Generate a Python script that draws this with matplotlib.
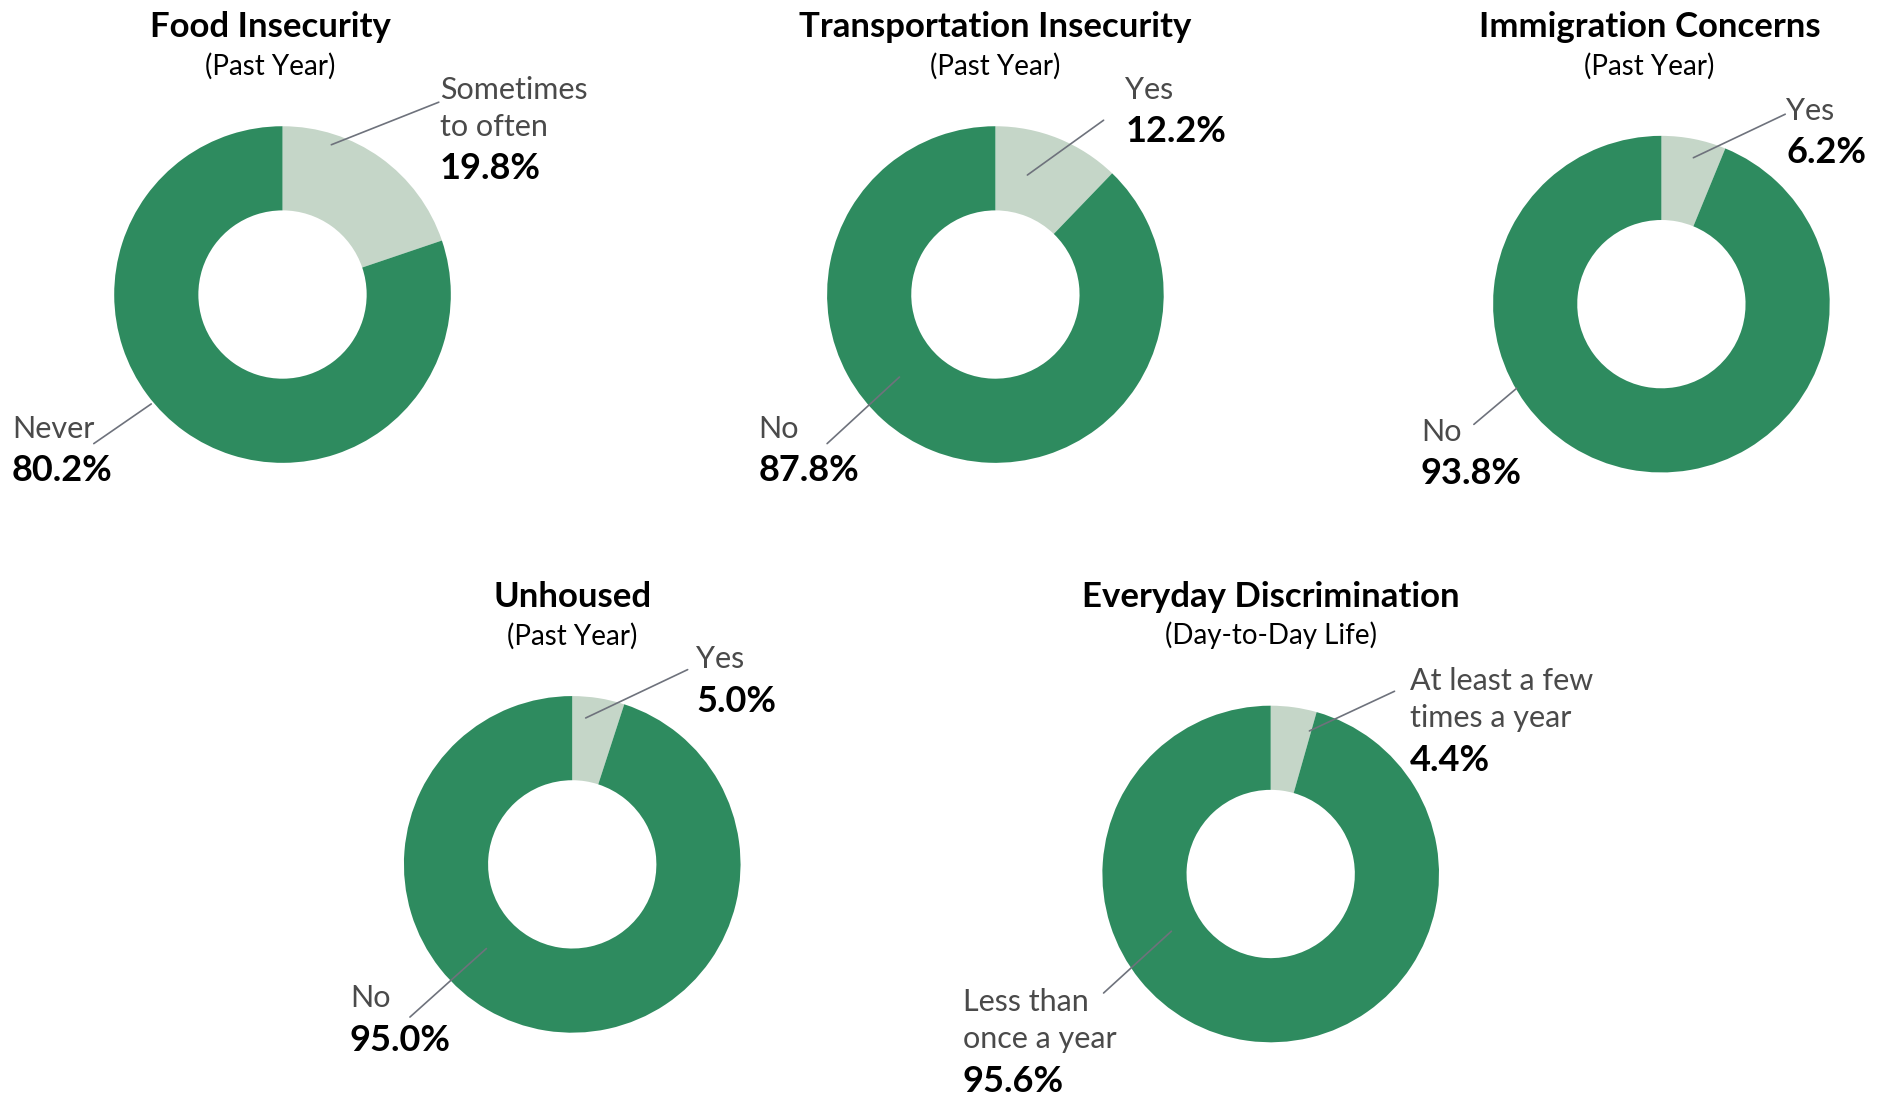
import matplotlib
matplotlib.use("Agg")
import matplotlib.pyplot as plt

plt.rcParams['font.family'] = ['Lato', 'DejaVu Sans']

# chart data
titles = ["Food Insecurity", "Transportation Insecurity", "Immigration Concerns",
          "Unhoused", "Everyday Discrimination"]
subtitles = ["(Past Year)", "(Past Year)", "(Past Year)", "(Past Year)", "(Day-to-Day Life)"]
small_labels = [["Sometimes", "to often"], ["Yes"], ["Yes"], ["Yes"],
                ["At least a few", "times a year"]]
big_labels = [["Never"], ["No"], ["No"], ["No"], ["Less than", "once a year"]]
small_pct = [19.8, 12.2, 6.2, 5.0, 4.4]
big_pct = [80.2, 87.8, 93.8, 95.0, 95.6]

# layout (pixel positions measured on a 1568x910 canvas)
W, H = 1568, 910
centers = [(235, 245), (828, 245), (1382, 253), (476, 719), (1057, 727)]
radius = 140
title_x = [225, 828, 1372, 476, 1057]
title_y = [31, 31, 31, 505, 505]
small_x = [366, 936, 1486, 579, 1173]
small_y = [82, 82, 100, 556, 574]
big_x = [10, 631, 1182, 291, 801]
big_y = [364, 364, 367, 838, 841]
small_line_from = [(365, 85), (918, 100), (1485, 95), (572, 557), (1160, 575)]
big_line_from = [(78, 369), (688, 369), (1226, 353), (341, 846), (918, 826)]
small_anchor = [(0.29, 0.89), (0.19, 0.71), (0.19, 0.87), (0.08, 0.87), (0.23, 0.85)]
big_anchor = [(-0.78, -0.65), (-0.57, -0.49), (-0.86, -0.50), (-0.51, -0.50), (-0.59, -0.34)]

green = "#2e8b5f"
light = "#c5d6c8"
label_color = "#4a4a4a"
line_color = "#6e727c"
line_gap = 31
pct_gap = 36


def fx(x):
    return x / W


def fy(y):
    return 1 - y / H


fig = plt.figure(figsize=(18.85, 10.94), dpi=100)

for i in range(len(titles)):
    cx, cy = centers[i]
    ax = fig.add_axes([fx(cx - radius), fy(cy + radius), 2 * radius / W, 2 * radius / H])
    ax.pie([small_pct[i], big_pct[i]], startangle=90, counterclock=False,
           colors=[light, green], radius=1,
           wedgeprops=dict(width=0.5, linewidth=0))
    ax.set_xlim(-1, 1)
    ax.set_ylim(-1, 1)
    ax.axis('off')

    # titles
    fig.text(fx(title_x[i]), fy(title_y[i]), titles[i], ha='center', va='baseline',
             fontsize=25, fontweight='bold', color='black')
    fig.text(fx(title_x[i]), fy(title_y[i] + line_gap), subtitles[i], ha='center',
             va='baseline', fontsize=20, color='black')

    # small slice label
    for j, line in enumerate(small_labels[i]):
        fig.text(fx(small_x[i]), fy(small_y[i] + j * line_gap), line, ha='left',
                 va='baseline', fontsize=22, color=label_color)
    py = small_y[i] + (len(small_labels[i]) - 1) * line_gap + pct_gap
    fig.text(fx(small_x[i]), fy(py), f"{small_pct[i]:.1f}%", ha='left', va='baseline',
             fontsize=26, fontweight='bold', color='black')

    # big slice label
    for j, line in enumerate(big_labels[i]):
        fig.text(fx(big_x[i]), fy(big_y[i] + j * line_gap), line, ha='left',
                 va='baseline', fontsize=22, color=label_color)
    py = big_y[i] + (len(big_labels[i]) - 1) * line_gap + pct_gap
    fig.text(fx(big_x[i]), fy(py), f"{big_pct[i]:.1f}%", ha='left', va='baseline',
             fontsize=26, fontweight='bold', color='black')

    # leader lines
    for anchor, start in [(small_anchor[i], small_line_from[i]),
                          (big_anchor[i], big_line_from[i])]:
        ax.annotate('', xy=anchor, xycoords='data',
                    xytext=(fx(start[0]), fy(start[1])), textcoords='figure fraction',
                    arrowprops=dict(arrowstyle='-', color=line_color, lw=1.2,
                                    shrinkA=0, shrinkB=0))

fig.savefig("out.png", dpi=100, facecolor='white')
